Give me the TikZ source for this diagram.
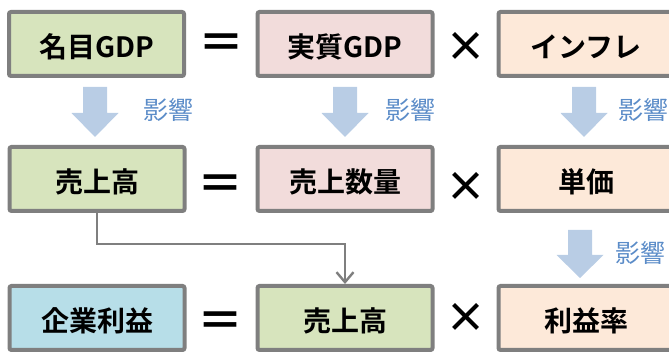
\documentclass[tikz,border=0pt]{standalone}
\usepackage{fontspec}
\setmainfont{Noto Sans CJK JP}[BoldFont={* Bold}]
\newfontfamily\jpb{Noto Sans CJK JP Bold}
\newfontfamily\jpr{Noto Sans CJK JP}
\usetikzlibrary{arrows.meta}
\definecolor{bordergray}{HTML}{7F7F7F}
\definecolor{fgreen}{HTML}{D7E4BD}
\definecolor{fpink}{HTML}{F2DCDB}
\definecolor{fpeach}{HTML}{FDE9D9}
\definecolor{fblue}{HTML}{B7DEE8}
\definecolor{arrowblue}{HTML}{B9CDE5}
\definecolor{labelblue}{HTML}{5B8CC8}
\tikzset{
  termbox/.style={draw=bordergray, line width=4pt, rounded corners=2pt,
    minimum width=175pt, minimum height=64pt, inner sep=0pt,
    text height=30pt, text depth=3pt,
    font=\jpb\fontsize{28}{28}\selectfont, text=black},
  eqsign/.style={inner sep=0pt, font=\jpb\fontsize{46}{46}\selectfont},
  timessign/.style={inner sep=0pt, font=\jpb\fontsize{41}{41}\selectfont},
  effect/.style={inner sep=0pt, text=labelblue, font=\jpr\fontsize{25}{25}\selectfont},
  connector/.style={draw=bordergray, line width=2.4pt, -{Straight Barb[length=10pt,width=17pt,line width=2.4pt]}},
  bigarrow/.pic={\fill[arrowblue] (-12,0) -- (12,0) -- (12,26) -- (23.5,26) -- (0,50) -- (-23.5,26) -- (-12,26) -- cycle;}
}
\begin{document}
\begin{tikzpicture}[x=1pt,y=-1pt]
\useasboundingbox (0,0) rectangle (669,352);
% row 1
\node[termbox, fill=fgreen] (ngdp) at (96.5,44) {名目GDP};
\node[termbox, fill=fpink] (rgdp) at (345,44) {実質GDP};
\node[termbox, fill=fpeach] (infl) at (586,44) {インフレ};
\node[eqsign] (eq1) at (221,47) {＝};
\node[timessign] (x1) at (466,47) {×};
% row 2
\node[termbox, fill=fgreen] (sales) at (97,179) {売上高};
\node[termbox, fill=fpink] (qty) at (345,179) {売上数量};
\node[termbox, fill=fpeach] (price) at (586,179) {単価};
\node[eqsign] (eq2) at (220,188) {＝};
\node[timessign] (x2) at (466,187) {×};
% row 3
\node[termbox, fill=fblue] (profit) at (97,318) {企業利益};
\node[termbox, fill=fgreen] (sales2) at (345,318) {売上高};
\node[termbox, fill=fpeach] (margin) at (586,318) {利益率};
\node[eqsign] (eq3) at (220,325) {＝};
\node[timessign] (x3) at (466,318) {×};
% influence arrows
\pic at (95,87) {bigarrow};
\pic at (345,87) {bigarrow};
\pic at (584,87) {bigarrow};
\pic[yscale=0.96] at (580,230) {bigarrow};
\node[effect] (e1) at (168,110) {影響};
\node[effect] (e2) at (410,110) {影響};
\node[effect] (e3) at (643,110) {影響};
\node[effect] (e4) at (640,253) {影響};
% connector
\coordinate (bend) at (345,244);
\draw[connector] (sales.south) |- (bend) -- (sales2.north);
\end{tikzpicture}
\end{document}
